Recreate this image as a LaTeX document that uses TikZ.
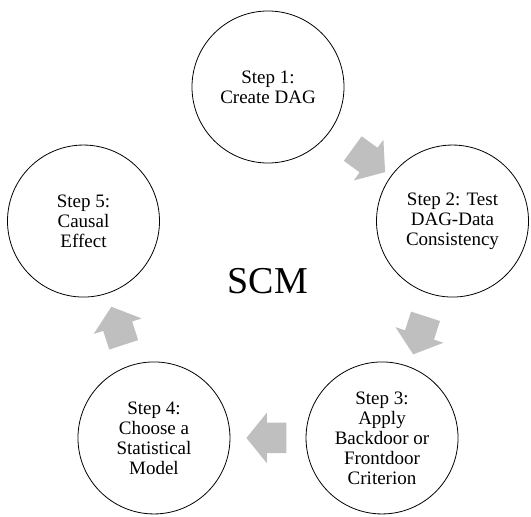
\documentclass[tikz,border=0pt]{standalone}
\usepackage{fontspec}
\setmainfont{Liberation Serif}
\usetikzlibrary{calc,shapes.arrows}

\tikzset{
  stepnode/.style={circle, draw=black, line width=0.8pt, minimum size=152pt,
    inner sep=0pt, align=center, font=\fontsize{19}{20}\selectfont},
  flowarrow/.style={single arrow, fill=gray!50, draw=none, minimum height=40pt,
    text height=15pt, text depth=15pt, single arrow head extend=10pt,
    single arrow tip angle=102, inner sep=0pt},
}

\begin{document}
\begin{tikzpicture}
   % Sizes
   \pgfmathsetmacro{\rad}{194}
   \useasboundingbox (0,0) rectangle (531pt,517pt);
   \coordinate (hub) at (268pt,236pt);

   % steps
   \node[stepnode] (s1) at ($(hub)+(90:\rad pt)$) {Step 1:\\Create DAG};
   \node[stepnode] (s2) at ($(hub)+(18:\rad pt)$) {Step 2: Test\\DAG-Data\\Consistency};
   \node[stepnode] (s3) at ($(hub)+(-54:\rad pt)$) {Step 3:\\Apply\\Backdoor or\\Frontdoor\\Criterion};
   \node[stepnode] (s4) at ($(hub)+(234:\rad pt)$) {Step 4:\\Choose a\\Statistical\\Model};
   \node[stepnode] (s5) at ($(hub)+(162:\rad pt)$) {Step 5:\\Causal\\Effect};

   % arrows inbetween
   \node[flowarrow, rotate=-36] (a12) at ($(s1)!0.52!(s2)$) {};
   \node[flowarrow, rotate=-108] (a23) at ($(s2)!0.5!(s3)+(4pt,0)$) {};
   \node[flowarrow, rotate=180] (a34) at ($(s3)!0.48!(s4)$) {};
   \node[flowarrow, rotate=108] (a45) at ($(s4)!0.49!(s5)$) {};

   % label
   \node[font=\fontsize{38}{40}\selectfont, inner sep=0pt] (scm) at (hub) {SCM};
\end{tikzpicture}
\end{document}
